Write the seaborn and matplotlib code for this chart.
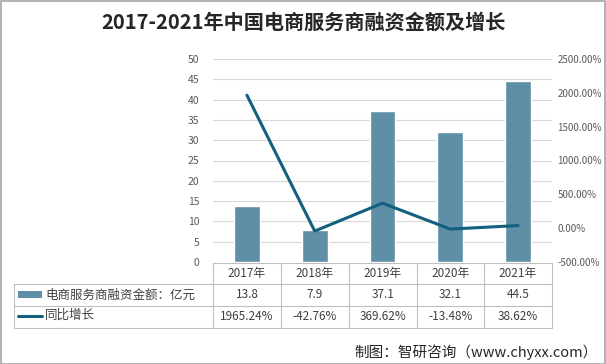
import matplotlib
matplotlib.use("Agg")
import matplotlib.pyplot as plt
import seaborn as sns
import numpy as np
import pandas as pd
from matplotlib.patches import Rectangle
from matplotlib.lines import Line2D

years = ["2017年", "2018年", "2019年", "2020年", "2021年"]
amount = [13.8, 7.9, 37.1, 32.1, 44.5]
growth = [1965.24, -42.76, 369.62, -13.48, 38.62]
series_names = ["电商服务商融资金额：亿元", "同比增长"]
title = "2017-2021年中国电商服务商融资金额及增长"
source = "制图：智研咨询（www.chyxx.com）"
left_ticks = list(range(0, 55, 5))
right_ticks = list(range(-500, 3000, 500))

sns.set_theme(style="white")
plt.rcParams["font.family"] = ["Noto Sans CJK SC", "DejaVu Sans"]

W, H = 606, 364
fig = plt.figure(figsize=(W / 100, H / 100), dpi=100)

bar_color = "#5E8FA6"
line_color = "#135F7D"
grid_color = "#D9D9D9"
text_color = "#404040"
tick_color = "#595959"

def fx(px):
    return px / W

def fy(py):
    return 1 - py / H

ax = fig.add_axes([fx(213), fy(262), fx(552) - fx(213), fy(59) - fy(262)])
df = pd.DataFrame({"year": years, "amount": amount})
sns.barplot(data=df, x="year", y="amount", ax=ax, color=bar_color, width=0.38,
            saturation=1, zorder=2)
ax.set_ylim(0, 50)
ax.set_yticks(left_ticks)
ax.set_xlim(-0.5, 4.5)
ax.set_xticks([])
ax.set_xlabel("")
ax.set_ylabel("")
for s in ax.spines.values():
    s.set_visible(False)
ax.yaxis.grid(True, color=grid_color, linewidth=0.8, zorder=0)
ax.set_axisbelow(True)
ax.tick_params(axis="y", labelsize=7.5, colors=tick_color, length=0, pad=10)

ax2 = ax.twinx()
pos = np.arange(len(years))
sns.lineplot(x=pos, y=growth, ax=ax2, color=line_color, linewidth=2.2, zorder=3)
ax2.set_ylim(-500, 2500)
ax2.set_yticks(right_ticks)
ax2.set_yticklabels([f"{v:.2f}%" for v in right_ticks])
ax2.set_xlim(-0.5, 4.5)
ax2.set_ylabel("")
for s in ax2.spines.values():
    s.set_visible(False)
ax2.tick_params(axis="y", labelsize=7, colors=tick_color, length=0, pad=4)

# title
fig.text(0.5, fy(22), title, ha="center", va="center", fontsize=14.5,
         fontweight="bold", color="#262626")

# table
col_edges = [213, 281, 349, 417, 484, 552]
row_edges = [263, 284, 306, 328]
border = "#BFBFBF"
lines = []
lines.append(((213, 552), (263, 263)))
for x in col_edges:
    lines.append(((x, x), (263, 328)))
lines.append(((14, 14), (284, 328)))
for y in row_edges[1:]:
    lines.append(((14, 552), (y, y)))
for xs, ys in lines:
    fig.add_artist(Line2D([fx(xs[0]), fx(xs[1])], [fy(ys[0]), fy(ys[1])],
                          color=border, linewidth=0.8, transform=fig.transFigure))

centers = [(col_edges[i] + col_edges[i + 1]) / 2 for i in range(5)]
for i, y in enumerate(years):
    fig.text(fx(centers[i]), fy(273.5), y, ha="center", va="center",
             fontsize=8.5, color=text_color)
    fig.text(fx(centers[i]), fy(295), f"{amount[i]:.1f}", ha="center",
             va="center", fontsize=8.5, color=text_color)
    fig.text(fx(centers[i]), fy(317), f"{growth[i]:.2f}%", ha="center",
             va="center", fontsize=8.5, color=text_color)

fig.add_artist(Rectangle((fx(18), fy(298)), fx(42) - fx(18), fy(291) - fy(298),
                         facecolor=bar_color, edgecolor="none",
                         transform=fig.transFigure))
fig.add_artist(Line2D([fx(18), fx(42)], [fy(316), fy(316)], color=line_color,
                      linewidth=2.2, transform=fig.transFigure))
fig.text(fx(45), fy(295), series_names[0], ha="left", va="center", fontsize=9,
         color=text_color)
fig.text(fx(45), fy(315), series_names[1], ha="left", va="center", fontsize=9,
         color=text_color)

fig.text(fx(598), fy(352), source, ha="right", va="center", fontsize=10.5,
         color="#262626")

# figure border
fig.add_artist(Rectangle((0.001, 0.001), 0.997, 0.996, fill=False,
                         edgecolor="#A6A6A6", linewidth=1.2,
                         transform=fig.transFigure))

fig.savefig("out.png", dpi=100)
